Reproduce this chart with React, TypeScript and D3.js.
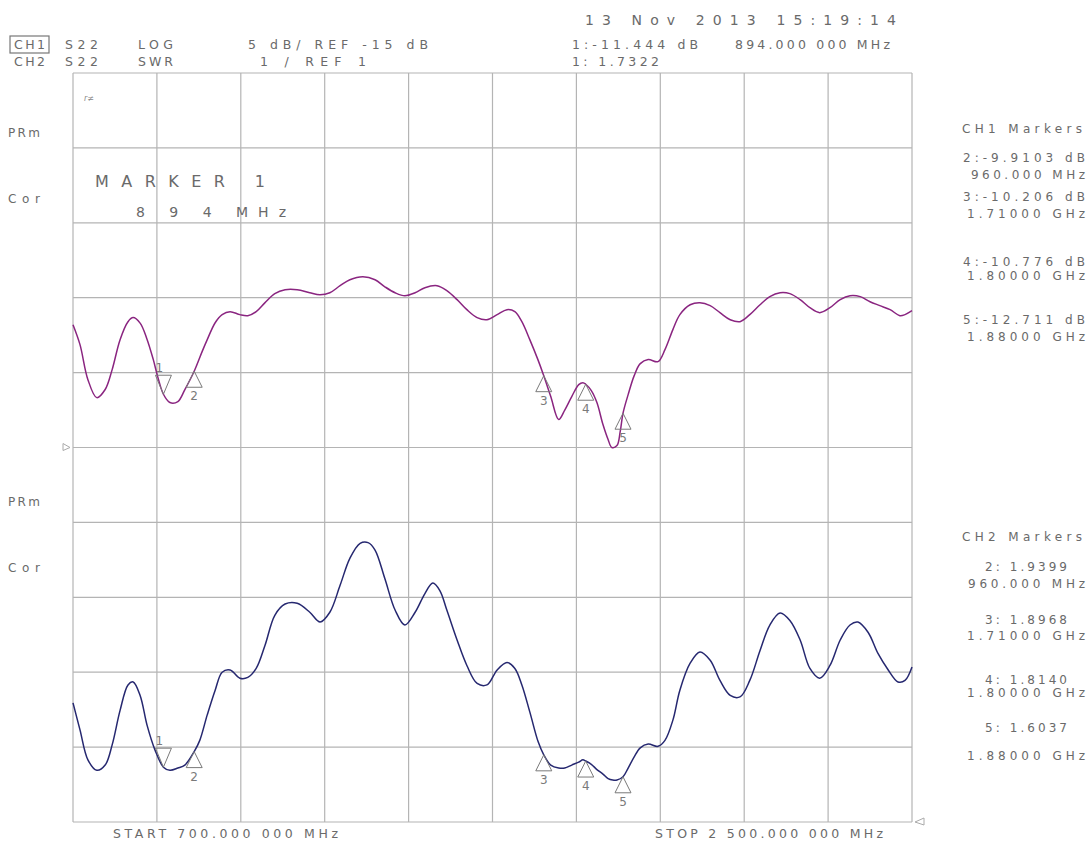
import React from "react";
import * as d3 from "d3";

const ch1Freq = [700,715,732,751,769,784,801,818,829,844,858,872,882,894,908,925,940,960,977,988,1005,1020,1037,1058,1075,1093,1112,1133,1155,1181,1208,1230,1251,1273,1294,1322,1348,1369,1391,1412,1434,1455,1481,1502,1524,1545,1567,1588,1610,1631,1648,1663,1680,1697,1710,1725,1742,1755,1770,1785,1794,1800,1812,1824,1837,1848,1856,1867,1874,1880,1891,1904,1917,1934,1955,1970,1987,2002,2024,2045,2067,2088,2110,2131,2152,2174,2195,2217,2238,2260,2281,2302,2324,2346,2367,2389,2410,2431,2453,2474,2485,2500];
const ch1Db = [-6.8,-8.13,-10.47,-11.67,-11.13,-9.8,-7.8,-6.6,-6.33,-6.7,-7.7,-9.1,-10.3,-11.444,-12.0,-11.93,-11.13,-9.9103,-8.6,-7.8,-6.67,-6.13,-5.93,-6.13,-6.2,-5.93,-5.33,-4.73,-4.47,-4.47,-4.67,-4.8,-4.67,-4.2,-3.8,-3.6,-3.8,-4.27,-4.67,-4.87,-4.67,-4.33,-4.2,-4.53,-5.13,-5.8,-6.33,-6.47,-6.13,-5.8,-5.93,-6.6,-7.8,-9.1,-10.206,-11.6,-13.13,-12.5,-11.6,-10.8,-10.67,-10.776,-11.2,-12.0,-13.47,-14.47,-15.0,-14.87,-13.93,-12.711,-11.47,-10.2,-9.4,-9.13,-9.27,-8.47,-7.13,-6.13,-5.47,-5.33,-5.53,-6.0,-6.47,-6.6,-6.13,-5.47,-4.93,-4.67,-4.73,-5.13,-5.67,-6.0,-5.67,-5.13,-4.87,-4.93,-5.27,-5.53,-5.8,-6.2,-6.13,-5.87];

const ch2Freq = [700,715,732,751,769,784,801,818,829,844,859,876,894,908,925,940,960,972,988,1005,1020,1037,1058,1075,1093,1112,1133,1155,1181,1208,1230,1251,1273,1294,1316,1333,1348,1369,1391,1412,1434,1455,1472,1487,1502,1524,1545,1567,1588,1610,1631,1648,1663,1680,1698,1710,1725,1742,1755,1770,1785,1794,1800,1812,1824,1837,1848,1858,1867,1880,1891,1904,1917,1934,1955,1970,1987,2002,2024,2045,2067,2088,2110,2131,2152,2174,2195,2217,2238,2260,2281,2302,2324,2346,2367,2384,2406,2427,2449,2470,2485,2500];
const ch2Swr = [2.59,2.23,1.83,1.69,1.76,2.03,2.49,2.83,2.87,2.69,2.29,1.96,1.7322,1.69,1.72,1.76,1.9399,2.09,2.43,2.76,3.0,3.03,2.92,2.93,3.05,3.36,3.76,3.91,3.92,3.8,3.67,3.8,4.16,4.52,4.72,4.73,4.63,4.25,3.83,3.63,3.8,4.05,4.19,4.09,3.83,3.43,3.09,2.85,2.83,3.03,3.13,3.05,2.83,2.47,2.07,1.8968,1.76,1.72,1.72,1.76,1.8,1.83,1.814,1.77,1.7,1.64,1.58,1.56,1.56,1.6037,1.72,1.87,1.99,2.04,2.01,2.09,2.36,2.76,3.12,3.27,3.16,2.89,2.69,2.67,2.89,3.29,3.63,3.79,3.69,3.43,3.05,2.92,3.09,3.43,3.63,3.67,3.53,3.25,3.03,2.87,2.89,3.07];

const markerFreqs = [894, 960, 1710, 1800, 1880];
const ch1MarkerDb = [-11.444, -9.9103, -10.206, -10.776, -12.711];
const ch2MarkerSwr = [1.7322, 1.9399, 1.8968, 1.814, 1.6037];

const headerLeft = [
  ["CH1", 14, 49, 31], ["S22", 65, 49, 33], ["LOG", 138, 49, 35], ["5 dB/ REF -15 dB", 248, 49, 180],
  ["CH2", 14, 66, 31], ["S22", 65, 66, 33], ["SWR", 138, 66, 35], ["1  / REF 1", 260, 66, 106],
  ["1:-11.444 dB", 572, 49, 126], ["894.000 000 MHz", 735, 49, 155], ["1: 1.7322", 572, 66, 87],
];
const sideLabels = [["PRm", 137], ["Cor", 203], ["PRm", 506], ["Cor", 572]];
const ch1MarkerText = [
  ["CH1 Markers", 962, 133, 120], ["2:-9.9103 dB", 963, 162, 122], ["960.000 MHz", 971, 179, 114],
  ["3:-10.206 dB", 963, 201, 122], ["1.71000 GHz", 967, 218, 118], ["4:-10.776 dB", 963, 266, 122],
  ["1.80000 GHz", 967, 280, 118], ["5:-12.711 dB", 963, 324, 122], ["1.88000 GHz", 967, 341, 118],
];
const ch2MarkerText = [
  ["CH2 Markers", 962, 541, 120], ["2: 1.9399", 985, 571, 82], ["960.000 MHz", 968, 588, 117],
  ["3: 1.8968", 985, 624, 82], ["1.71000 GHz", 967, 640, 118], ["4: 1.8140", 985, 684, 82],
  ["1.80000 GHz", 967, 697, 118], ["5: 1.6037", 985, 732, 82], ["1.88000 GHz", 967, 760, 118],
];

const W = 1091, H = 845;
const L = 73, R = 912, T = 73, B = 822;

export default function App() {
  const x = d3.scaleLinear().domain([700, 2500]).range([L, R]);
  const yDb = d3.scaleLinear().domain([-40, 10]).range([B, T]);
  const ySwr = d3.scaleLinear().domain([1, 11]).range([B, T]);
  const xt = d3.range(0, 11).map((i) => 700 + i * 180);
  const yt = d3.range(0, 11).map((i) => -40 + i * 5);

  const line1 = d3.line<number>().x((_, i) => x(ch1Freq[i])).y((d) => yDb(d)).curve(d3.curveCatmullRom.alpha(0.5));
  const line2 = d3.line<number>().x((_, i) => x(ch2Freq[i])).y((d) => ySwr(d)).curve(d3.curveCatmullRom.alpha(0.5));

  const txt = "#6a6a6a";
  const font = "'DejaVu Sans', sans-serif";

  const marker = (cx: number, cy: number, idx: number, key: string) => {
    const mc = "#7a7a7a";
    if (idx === 0) {
      return (
        <g key={key}>
          <path d={`M${cx - 8},${cy - 19}L${cx + 8},${cy - 19}L${cx},${cy}Z`} fill="none" stroke={mc} strokeWidth={1} />
          <text x={cx - 4} y={cy - 22} fontSize={12} fill={mc} fontFamily={font} textAnchor="middle">1</text>
        </g>
      );
    }
    return (
      <g key={key}>
        <path d={`M${cx},${cy}L${cx + 8},${cy + 16}L${cx - 8},${cy + 16}Z`} fill="none" stroke={mc} strokeWidth={1} />
        <text x={cx} y={cy + 29} fontSize={12} fill={mc} fontFamily={font} textAnchor="middle">{idx + 1}</text>
      </g>
    );
  };

  const T2 = (t: any[], i: number, size = 12) => (
    <text key={i} x={t[1]} y={t[2]} textLength={t[3]} lengthAdjust="spacing" fontSize={size} fill={txt} fontFamily={font}>{t[0]}</text>
  );

  return (
    <svg width={W} height={H} style={{ position: "absolute", left: 0, top: 0, background: "#fff" }}>
      <rect x={0} y={0} width={W} height={H} fill="#fff" />
      {xt.map((f) => (
        <line key={"vx" + f} x1={x(f)} x2={x(f)} y1={T} y2={B} stroke="#b4b4b4" strokeWidth={1.2} />
      ))}
      {yt.map((v) => (
        <line key={"hy" + v} x1={L} x2={R} y1={yDb(v)} y2={yDb(v)} stroke="#b4b4b4" strokeWidth={1.2} />
      ))}

      <path d={`M${L - 10},${yDb(-15) - 4}L${L - 3},${yDb(-15)}L${L - 10},${yDb(-15) + 3}Z`} fill="none" stroke="#aaa" strokeWidth={1} />
      <path d={`M${R + 12},${ySwr(1) - 4}L${R + 3},${ySwr(1)}L${R + 12},${ySwr(1) + 3}Z`} fill="none" stroke="#aaa" strokeWidth={1} />

      <path d={line1(ch1Db) || ""} fill="none" stroke="#8a2580" strokeWidth={1.5} />
      <path d={line2(ch2Swr) || ""} fill="none" stroke="#262870" strokeWidth={1.5} />

      {markerFreqs.map((f, i) => marker(x(f), yDb(ch1MarkerDb[i]), i, "m1" + i))}
      {markerFreqs.map((f, i) => marker(x(f), ySwr(ch2MarkerSwr[i]), i, "m2" + i))}

      <rect x={10} y={36} width={39} height={17} fill="none" stroke="#777" strokeWidth={1.2} />
      {headerLeft.map((t, i) => T2(t, i, 12.5))}
      <text x={585} y={25} textLength={311} lengthAdjust="spacing" fontSize={14} fill={txt} fontFamily={font}>13 Nov 2013  15:19:14</text>

      {sideLabels.map((s, i) => (
        <text key={"s" + i} x={8} y={s[1] as number} textLength={32} lengthAdjust="spacing" fontSize={12} fill={txt} fontFamily={font}>{s[0]}</text>
      ))}

      <text x={84} y={101} fontSize={8} fill="#888" fontFamily={font} fontStyle="italic">r≠</text>
      <text x={95} y={187} textLength={170} lengthAdjust="spacing" fontSize={16} fill={txt} fontFamily={font}>MARKER 1</text>
      <text x={136} y={217} textLength={150} lengthAdjust="spacing" fontSize={14} fill={txt} fontFamily={font}>8 9 4   MHz</text>

      {ch1MarkerText.map((t, i) => T2(t, 100 + i, 12))}
      {ch2MarkerText.map((t, i) => T2(t, 200 + i, 12))}

      <text x={113} y={838} textLength={225} lengthAdjust="spacing" fontSize={12.5} fill={txt} fontFamily={font}>START 700.000 000 MHz</text>
      <text x={655} y={838} textLength={228} lengthAdjust="spacing" fontSize={12.5} fill={txt} fontFamily={font}>STOP 2 500.000 000 MHz</text>
    </svg>
  );
}
